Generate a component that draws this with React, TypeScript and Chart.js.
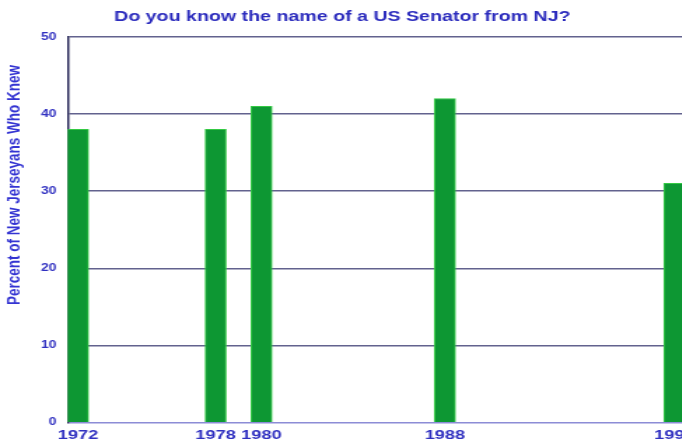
import React, { useEffect, useRef } from "react";
import { Chart, registerables } from "chart.js";

Chart.register(...registerables);

const years = [1972, 1978, 1980, 1988, 1998];
const percentKnew = [38, 38, 41, 42, 31];
const yTicks = [0, 10, 20, 30, 40, 50];
const titleText = "Do you know the name of a US Senator from NJ?";
const yTitleText = "Percent of New Jerseyans Who Knew";

const STRETCH = 1.4;
const FONT = "'Liberation Sans', Arial, Helvetica, sans-serif";

const yTitlePlugin = {
  id: "yTitlePlugin",
  afterDraw(chart: any) {
    const ctx = chart.ctx;
    ctx.save();
    ctx.translate(10.7, 185);
    ctx.rotate(-Math.PI / 2);
    ctx.font = `bold 13.5px ${FONT}`;
    ctx.fillStyle = "#3434d2";
    ctx.textAlign = "center";
    ctx.textBaseline = "middle";
    ctx.fillText(yTitleText, 0, 0);
    ctx.restore();
  },
};

export default function App() {
  const ref = useRef<HTMLCanvasElement | null>(null);
  useEffect(() => {
    if (!ref.current) return;
    const chart = new Chart(ref.current, {
      type: "bar",
      data: {
        datasets: [
          {
            data: years.map((y, i) => ({ x: y, y: percentKnew[i] })),
            backgroundColor: "#0d9733",
            borderColor: "#34c944",
            borderWidth: 1,
            barThickness: 15,
          },
        ],
      },
      options: {
        animation: false,
        responsive: false,
        layout: { padding: { left: 0, right: 21, top: 0, bottom: 0 } },
        plugins: {
          legend: { display: false },
          tooltip: { enabled: false },
          title: {
            display: true,
            text: titleText,
            color: "#2b2bbd",
            font: { family: FONT, size: 14, weight: "bold" },
            padding: { top: 9, bottom: 11 },
          },
        },
        scales: {
          x: {
            type: "linear",
            offset: false,
            min: 1971.55,
            max: 1998.45,
            afterBuildTicks: (scale: any) => {
              scale.ticks = years.map((v) => ({ value: v }));
            },
            afterFit: (scale: any) => {
              scale.height = 22.3;
            },
            ticks: {
              autoSkip: false,
              maxRotation: 0,
              padding: 5,
              color: "#3030c0",
              font: { family: FONT, size: 13, weight: "bold" },
              callback: (v: any) => String(v),
            },
            grid: { display: false, drawTicks: false, offset: false },
            border: { display: false },
          },
          y: {
            min: 0,
            max: 50,
            afterBuildTicks: (scale: any) => {
              scale.ticks = yTicks.map((v) => ({ value: v }));
            },
            afterFit: (scale: any) => {
              scale.width = 48.4;
            },
            ticks: {
              padding: 8,
              color: "#3030c0",
              font: { family: FONT, size: 10, weight: "bold" },
            },
            grid: {
              drawTicks: false,
              lineWidth: 1.5,
              color: (c: any) =>
                c.tick && c.tick.value === 0 ? "#8c8cd6" : "#62628e",
            },
            border: { display: true, color: "#2c2c5c", width: 1.5 },
          },
        },
      },
      plugins: [yTitlePlugin],
    });
    return () => chart.destroy();
  }, []);

  return (
    <div
      style={{
        position: "fixed",
        left: 0,
        top: 0,
        width: 682,
        height: 445,
        overflow: "hidden",
        background: "#ffffff",
      }}
    >
      <canvas
        ref={ref}
        width={510}
        height={445}
        style={{
          display: "block",
          transform: `scaleX(${STRETCH})`,
          transformOrigin: "0 0",
        }}
      />
    </div>
  );
}
